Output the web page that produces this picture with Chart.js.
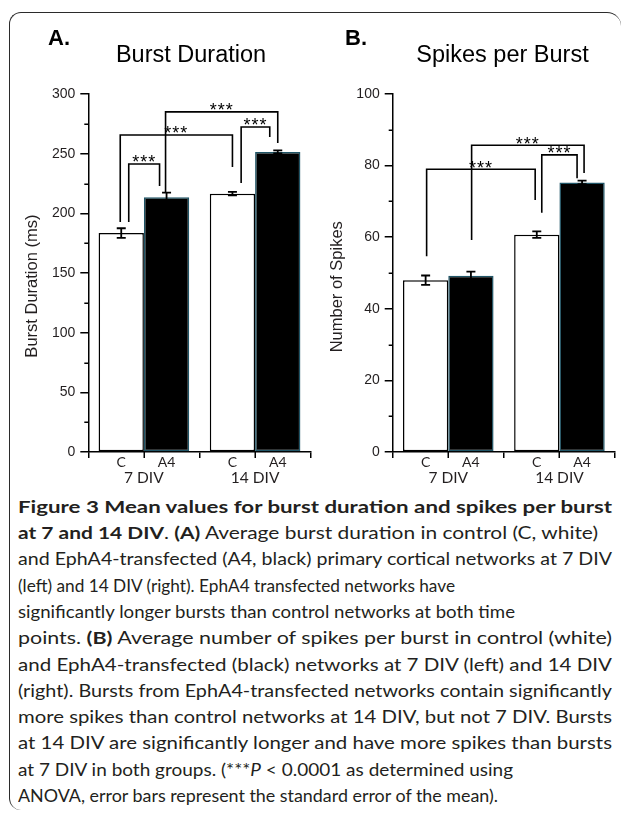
<!DOCTYPE html>
<html>
<head>
<meta charset="utf-8">
<script src="https://cdn.jsdelivr.net/npm/chart.js@4.4.1/dist/chart.umd.min.js"></script>
<style>
  html, body { margin: 0; padding: 0; background: #fff; }
  body { width: 629px; height: 818px; position: relative; overflow: hidden; }
  .frame {
    position: absolute; left: 9px; top: 12px; width: 612px; height: 798px;
    border: 1.5px solid #2b2b2b; border-right: none; border-bottom: none;
    border-radius: 12px 14px 0 12px; box-sizing: border-box;
  }
  canvas { position: absolute; }
  #chartA { left: 10px; top: 14px; }
  #chartB { left: 320px; top: 14px; }
  #caption {
    position: absolute; left: 18px; top: 488px;
    font-family: Lato, "Open Sans", sans-serif; color: #231f20;
    line-height: 26.3px; font-size: 17px;
  }
  .ln { white-space: nowrap; width: max-content; transform-origin: 0 50%; }
</style>
</head>
<body>
<div class="frame"></div>
<canvas id="chartA" width="310" height="480"></canvas>
<canvas id="chartB" width="305" height="480"></canvas>
<div id="caption">
  <div class="ln" data-w="594"><b>Figure 3 Mean values for burst duration and spikes per burst</b></div>
  <div class="ln" data-w="580"><b>at 7 and 14 DIV</b>. <b>(A)</b> Average burst duration in control (C, white)</div>
  <div class="ln" data-w="594">and EphA4-transfected (A4, black) primary cortical networks at 7 DIV</div>
  <div class="ln" data-w="437">(left) and 14 DIV (right). EphA4 transfected networks have</div>
  <div class="ln" data-w="497">significantly longer bursts than control networks at both time</div>
  <div class="ln" data-w="594">points. <b>(B)</b> Average number of spikes per burst in control (white)</div>
  <div class="ln" data-w="594">and EphA4-transfected (black) networks at 7 DIV (left) and 14 DIV</div>
  <div class="ln" data-w="594">(right). Bursts from EphA4-transfected networks contain significantly</div>
  <div class="ln" data-w="594">more spikes than control networks at 14 DIV, but not 7 DIV. Bursts</div>
  <div class="ln" data-w="594">at 14 DIV are significantly longer and have more spikes than bursts</div>
  <div class="ln" data-w="495">at 7 DIV in both groups. (***<i>P</i> &lt; 0.0001 as determined using</div>
  <div class="ln" data-w="480">ANOVA, error bars represent the standard error of the mean).</div>
</div>
<script>
(function () {
  'use strict';

  // categories and series
  var groups = ['7 DIV', '14 DIV'];
  var series = ['C', 'A4'];

  // A. burst duration (ms): means and SEM
  var durControl = [183.5, 216.5];
  var durEphA4 = [213.5, 251.5];
  var durControlSem = [4.0, 1.5];
  var durEphA4Sem = [3.8, 1.2];
  var durTicks = [0, 300, 50, 25]; // min, max, labelled step, minor offset

  // B. spikes per burst: means and SEM
  var spkControl = [48.0, 60.7];
  var spkEphA4 = [49.2, 75.3];
  var spkControlSem = [1.3, 0.9];
  var spkEphA4Sem = [1.2, 0.5];
  var spkTicks = [0, 100, 20, 10];

  // significance brackets: [series, group] -> [series, group], left foot, top, right foot
  var durBrackets = [
    [[0, 0], [1, 0], 192.8, 241.4, 223],
    [[0, 0], [0, 1], 192.8, 265.7, 238.9],
    [[1, 0], [1, 1], 217, 285, 259],
    [[0, 1], [1, 1], 225.5, 272.4, 264]
  ];
  var spkBrackets = [
    [[0, 0], [0, 1], 54.7, 79, 70.4],
    [[1, 0], [1, 1], 59.2, 85.7, 77.9],
    [[0, 1], [1, 1], 66.8, 83, 76.5]
  ];
  var sigLabel = '***';

  // pixel nudges of bracket feet from the bar centres
  var durBracketDx = [[7.5, -7], [-1, 0], [-1, 0], [8.7, -8]];
  var spkBracketDx = [[1, -1.6], [0.7, 2], [5, -5]];

  var INK = '#231f20';

  var figExtras = {
    id: 'figExtras',
    afterDatasetsDraw: function (chart, args, o) {
      var ctx = chart.ctx, y = chart.scales.y;
      ctx.save();
      ctx.strokeStyle = '#000';
      ctx.lineWidth = 1.8;
      // error bars
      o.sem.forEach(function (errs, ds) {
        chart.getDatasetMeta(ds).data.forEach(function (bar, i) {
          var v = chart.data.datasets[ds].data[i];
          var t = y.getPixelForValue(v + errs[i]);
          var b = y.getPixelForValue(v - errs[i]);
          ctx.beginPath();
          ctx.moveTo(bar.x, t); ctx.lineTo(bar.x, b);
          ctx.moveTo(bar.x - 4.5, t); ctx.lineTo(bar.x + 4.5, t);
          ctx.moveTo(bar.x - 4.5, b); ctx.lineTo(bar.x + 4.5, b);
          ctx.stroke();
        });
      });
      // brackets + stars
      ctx.lineWidth = 1.6;
      ctx.lineJoin = 'miter';
      o.brackets.forEach(function (br, k) {
        var p0 = chart.getDatasetMeta(br[0][0]).data[br[0][1]];
        var p1 = chart.getDatasetMeta(br[1][0]).data[br[1][1]];
        var x0 = p0.x + o.dx[k][0], x1 = p1.x + o.dx[k][1];
        var top = y.getPixelForValue(br[3]);
        ctx.beginPath();
        ctx.moveTo(x0, y.getPixelForValue(br[2]));
        ctx.lineTo(x0, top);
        ctx.lineTo(x1, top);
        ctx.lineTo(x1, y.getPixelForValue(br[4]));
        ctx.stroke();
        ctx.font = '18px "Liberation Sans", Arial, sans-serif';
        ctx.letterSpacing = '1px';
        ctx.fillStyle = '#000';
        ctx.textAlign = 'center';
        ctx.textBaseline = 'alphabetic';
        var m = ctx.measureText(sigLabel);
        ctx.fillText(sigLabel, (x0 + x1) / 2, top - 1.5 - m.actualBoundingBoxDescent);
      });
      ctx.restore();
    },
    afterDraw: function (chart, args, o) {
      var ctx = chart.ctx, x = chart.scales.x, y = chart.scales.y, a = chart.chartArea;
      ctx.save();
      ctx.strokeStyle = '#000';
      ctx.lineWidth = 1.5;
      ctx.beginPath();
      // minor y ticks between the labelled ones
      for (var v = o.ticks[0] + o.ticks[3]; v < o.ticks[1]; v += o.ticks[2]) {
        var py = Math.round(y.getPixelForValue(v)) + 0.25;
        ctx.moveTo(a.left - 4, py); ctx.lineTo(a.left, py);
      }
      // x ticks at the group centres
      groups.forEach(function (g, i) {
        var px = Math.round(x.getPixelForValue(i)) + 0.25;
        ctx.moveTo(px, a.bottom); ctx.lineTo(px, a.bottom + 6);
      });
      ctx.stroke();

      // C / A4 under each bar
      ctx.fillStyle = INK;
      ctx.font = '14px Lato, sans-serif';
      ctx.textAlign = 'center';
      ctx.textBaseline = 'alphabetic';
      series.forEach(function (s, ds) {
        chart.getDatasetMeta(ds).data.forEach(function (bar) {
          ctx.fillText(s, bar.x, a.bottom + 15);
        });
      });

      // panel letter and title
      ctx.fillStyle = '#000';
      ctx.textAlign = 'left';
      ctx.font = 'bold 22px "Liberation Sans", Arial, sans-serif';
      ctx.fillText(o.panel, o.panelX, 31);
      ctx.textAlign = 'center';
      ctx.font = '23.5px "Liberation Sans", Arial, sans-serif';
      ctx.fillText(o.title, o.titleX, 48);
      ctx.restore();
    }
  };

  function buildChart(id, ctrl, a4, sem, ticks, brackets, dx, txt) {
    return new Chart(document.getElementById(id), {
      type: 'bar',
      data: {
        labels: groups,
        datasets: [
          { label: series[0], data: ctrl, backgroundColor: '#fff', borderColor: '#000',
            borderWidth: 1.5, borderSkipped: false },
          { label: series[1], data: a4, backgroundColor: '#000', borderColor: '#1f5567',
            borderWidth: 1.5, borderSkipped: false }
        ]
      },
      options: {
        responsive: false,
        animation: false,
        events: [],
        layout: { padding: { top: 80, right: txt.padRight, bottom: 0, left: 0 } },
        datasets: { bar: { categoryPercentage: 0.815, barPercentage: 1 } },
        plugins: {
          legend: { display: false },
          tooltip: { enabled: false },
          figExtras: {
            sem: sem, brackets: brackets, dx: dx, ticks: ticks,
            panel: txt.panel, panelX: txt.panelX, title: txt.title, titleX: txt.titleX
          }
        },
        scales: {
          x: {
            grid: { offset: true, drawOnChartArea: false, tickLength: 6, color: '#000', lineWidth: 1.5 },
            border: { color: '#000', width: 1.5 },
            ticks: { font: { family: 'Lato', size: 15.5 }, color: INK, padding: 11, maxRotation: 0 },
            afterFit: function (s) { s.height = 42; }
          },
          y: {
            min: ticks[0],
            max: ticks[1],
            ticks: { stepSize: ticks[2], font: { family: 'Liberation Sans', size: 14 }, color: INK, padding: 5 },
            grid: { drawOnChartArea: false, tickLength: 8, color: '#000', lineWidth: 1.5 },
            border: { color: '#000', width: 1.5 },
            title: {
              display: true, text: txt.yTitle, color: INK,
              font: { family: 'Liberation Sans', size: 16.5 },
              padding: { top: txt.yTitlePad, bottom: 0 }
            },
            afterFit: function (s) { s.width = txt.yWidth; }
          }
        }
      },
      plugins: [figExtras]
    });
  }

  // trailing spaces push the rotated axis titles down to where the reference has them
  buildChart('chartA', durControl, durEphA4, [durControlSem, durEphA4Sem],
    durTicks, durBrackets, durBracketDx,
    { panel: 'A.', panelX: 38, title: 'Burst Duration', titleX: 181,
      yTitle: 'Burst Duration (ms)     \u2009', yTitlePad: 13, yWidth: 78.3, padRight: 9.3 });

  buildChart('chartB', spkControl, spkEphA4, [spkControlSem, spkEphA4Sem],
    spkTicks, spkBrackets, spkBracketDx,
    { panel: 'B.', panelX: 25, title: 'Spikes per Burst', titleX: 182.5,
      yTitle: 'Number of Spikes      ', yTitlePad: 7.6, yWidth: 72.7, padRight: 10 });

  // caption: squeeze/stretch each line to the width it has in the reference
  var cap = document.getElementById('caption');
  var fs = 17;
  Array.prototype.forEach.call(cap.querySelectorAll('.ln'), function (ln) {
    var target = parseFloat(ln.getAttribute('data-w'));
    var natural = ln.getBoundingClientRect().width;
    ln.style.transform = 'scaleX(' + (target / natural) + ')';
  });
  cap.style.top = (513.5 - 13.15 - 0.387 * fs) + 'px';
})();
</script>
</body>
</html>
